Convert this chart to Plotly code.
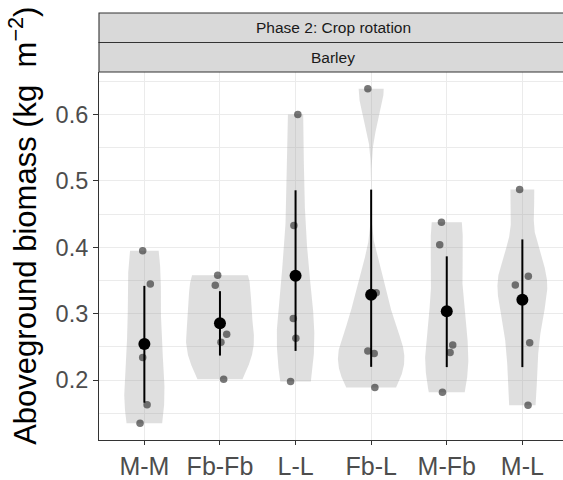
import numpy as np
import plotly.graph_objects as go

# ---------------- data ----------------
categories = ["M-M", "Fb-Fb", "L-L", "Fb-L", "M-Fb", "M-L"]

mm_vals   = [0.395, 0.345, 0.234, 0.163, 0.135]
fbfb_vals = [0.358, 0.343, 0.269, 0.257, 0.2015]
ll_vals   = [0.600, 0.433, 0.293, 0.263, 0.198]
fbl_vals  = [0.639, 0.3315, 0.244, 0.240, 0.189]
mfb_vals  = [0.438, 0.404, 0.253, 0.2417, 0.1817]
ml_vals   = [0.487, 0.3566, 0.3433, 0.2564, 0.162]

# horizontal jitter of the raw points (category units)
mm_jit   = [-0.022, 0.079, -0.022, 0.036, -0.057]
fbfb_jit = [-0.030, -0.062, 0.089, 0.013, 0.049]
ll_jit   = [0.030, -0.022, -0.030, 0.004, -0.066]
fbl_jit  = [-0.044, 0.066, -0.044, 0.040, 0.049]
mfb_jit  = [-0.070, -0.093, 0.079, 0.044, -0.057]
ml_jit   = [-0.036, 0.079, -0.093, 0.097, 0.075]

# interval bars drawn around the means
err_low  = [0.166, 0.237, 0.244, 0.220, 0.2196, 0.2196]
err_high = [0.342, 0.334, 0.486, 0.487, 0.3865, 0.412]

strip_top = "Phase 2: Crop rotation"
strip_bottom = "Barley"
y_title = "Aboveground biomass (kg  m<sup>\u22122</sup>)"
y_ticks = [0.2, 0.3, 0.4, 0.5, 0.6]

groups = [mm_vals, fbfb_vals, ll_vals, fbl_vals, mfb_vals, ml_vals]
jitters = [mm_jit, fbfb_jit, ll_jit, fbl_jit, mfb_jit, ml_jit]

# ---------------- violin densities (ggplot-like: nrd0, trim, area scale) ----------------
def kde(vals, n=512):
    v = np.asarray(vals, float)
    sd = v.std(ddof=1)
    iqr = np.subtract(*np.percentile(v, [75, 25]))
    bw = 0.9 * min(sd, iqr / 1.34) * len(v) ** (-0.2)
    ys = np.linspace(v.min(), v.max(), n)
    d = np.exp(-0.5 * ((ys[:, None] - v[None, :]) / bw) ** 2).sum(1) / (len(v) * bw * np.sqrt(2 * np.pi))
    return ys, d

dens = [kde(g) for g in groups]
dmax = max(d.max() for _, d in dens)

FONT = "Liberation Sans, Arial, sans-serif"
fig = go.Figure()

for i, (ys, d) in enumerate(dens):
    hw = 0.45 * d / dmax
    xs = np.concatenate([i + hw, (i - hw)[::-1]])
    yy = np.concatenate([ys, ys[::-1]])
    fig.add_trace(go.Scatter(x=xs, y=yy, mode="lines", fill="toself",
                             fillcolor="rgba(150,150,150,0.30)",
                             line=dict(width=0), hoverinfo="skip", showlegend=False))

# jittered raw points
px, py = [], []
for i, (g, j) in enumerate(zip(groups, jitters)):
    px += [i + o for o in j]
    py += list(g)
fig.add_trace(go.Scatter(x=px, y=py, mode="markers",
                         marker=dict(size=7.5, color="rgba(50,50,50,0.66)", line=dict(width=0)),
                         showlegend=False))

# means with interval bars
means = np.array([np.mean(g) for g in groups])
fig.add_trace(go.Scatter(
    x=list(range(len(categories))), y=means, mode="markers",
    marker=dict(size=12, color="black"),
    error_y=dict(type="data", symmetric=False,
                 array=np.array(err_high) - means,
                 arrayminus=means - np.array(err_low),
                 width=0, thickness=2, color="black"),
    showlegend=False))

# ---------------- layout ----------------
allv = np.concatenate([np.asarray(g) for g in groups])
lo, hi = allv.min(), allv.max()
pad = 0.05 * (hi - lo)

W, H = 563, 480
ML, MT, MB = 99, 72, 30
plot_h = H - MT - MB
px_per_cat = 75.6
x_lo = -0.6
x_hi = x_lo + (W - ML) / px_per_cat

s1 = 30.3 / plot_h
s2 = 60.6 / plot_h

fig.update_layout(
    width=W, height=H,
    margin=dict(l=ML, r=0, t=MT, b=MB),
    paper_bgcolor="white", plot_bgcolor="white",
    font=dict(family=FONT),
    xaxis=dict(range=[x_lo, x_hi], tickmode="array",
               tickvals=list(range(len(categories))), ticktext=categories,
               showgrid=True, gridcolor="#EBEBEB", gridwidth=1.3,
               zeroline=False, showline=True, linecolor="#333333", linewidth=1.1,
               ticks="outside", ticklen=4, tickwidth=1.1, tickcolor="#333333",
               tickfont=dict(size=25, color="#4D4D4D", family=FONT)),
    yaxis=dict(range=[lo - pad, hi + pad], tickmode="array", tickvals=y_ticks,
               ticktext=[f"{t:.1f}" for t in y_ticks],
               showgrid=True, gridcolor="#EBEBEB", gridwidth=1.3,
               minor=dict(tickvals=[0.15, 0.25, 0.35, 0.45, 0.55, 0.65],
                          showgrid=True, gridcolor="#EBEBEB", gridwidth=0.7, ticks=""),
               zeroline=False, showline=True, linecolor="#333333", linewidth=1.1,
               ticks="outside", ticklen=5, tickwidth=1.1, tickcolor="#333333",
               tickfont=dict(size=23.5, color="#4D4D4D", family=FONT)),
    shapes=[
        dict(type="rect", xref="paper", yref="paper", x0=0, x1=1.05, y0=1, y1=1 + s1,
             fillcolor="#D9D9D9", line=dict(color="#333333", width=1.1), layer="above"),
        dict(type="rect", xref="paper", yref="paper", x0=0, x1=1.05, y0=1 + s1, y1=1 + s2,
             fillcolor="#D9D9D9", line=dict(color="#333333", width=1.1), layer="above"),
    ],
    annotations=[
        dict(text=strip_bottom, xref="paper", yref="paper", x=(333 - ML) / (W - ML),
             y=1 + s1 / 2, showarrow=False, xanchor="center", yanchor="middle",
             font=dict(size=15.5, color="#1A1A1A", family=FONT)),
        dict(text=strip_top, xref="paper", yref="paper", x=(333 - ML) / (W - ML),
             y=1 + (s1 + s2) / 2, showarrow=False, xanchor="center", yanchor="middle",
             font=dict(size=15.5, color="#1A1A1A", family=FONT)),
        dict(text=y_title, xref="paper", yref="paper", x=(23 - ML) / (W - ML),
             y=(H - MB - 230) / plot_h, showarrow=False, textangle=-90,
             xanchor="center", yanchor="middle",
             font=dict(size=31, color="black", family=FONT)),
    ],
)

fig.write_html("out.html")
